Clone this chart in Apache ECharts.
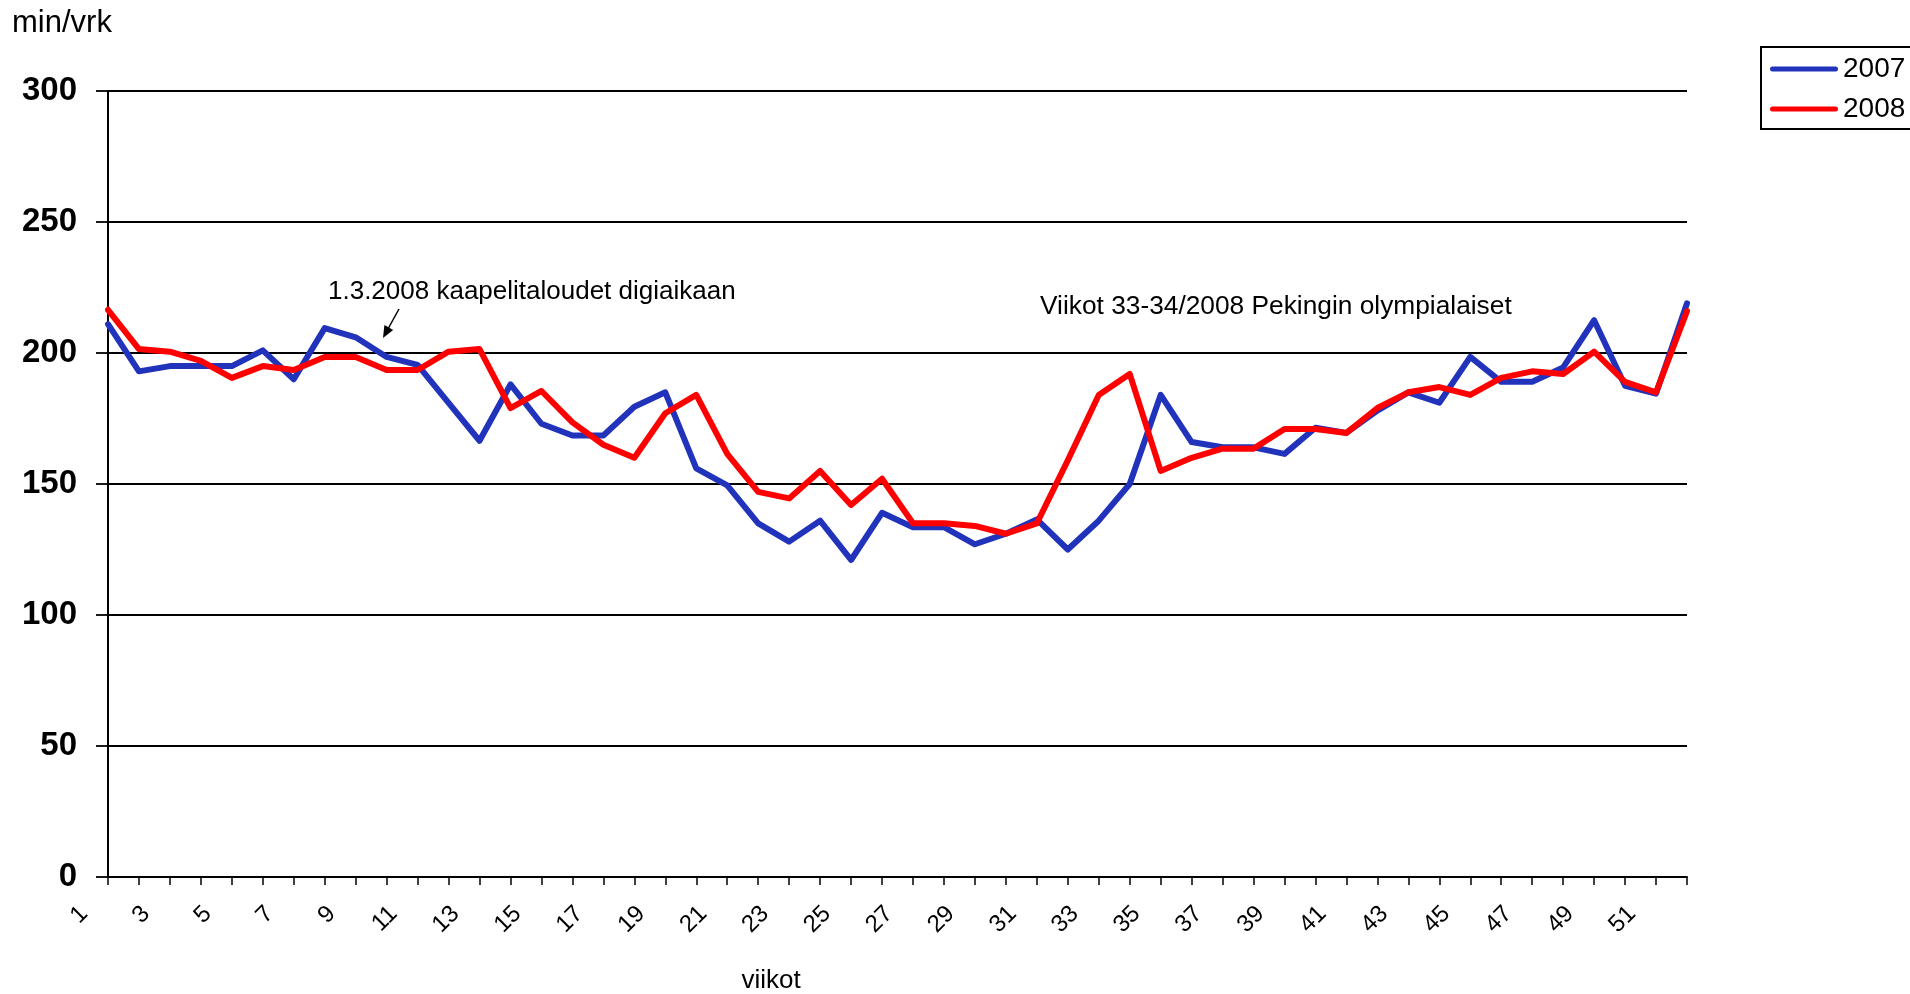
<!DOCTYPE html>
<html>
<head>
<meta charset="utf-8">
<script src="https://cdn.jsdelivr.net/npm/echarts@6/dist/echarts.min.js"></script>
<style>
html,body{margin:0;padding:0;background:#ffffff;}
#chart{width:1910px;height:994px;}
</style>
</head>
<body>
<div id="chart"></div>
<script>
const weeks = ['1','2','3','4','5','6','7','8','9','10','11','12','13','14','15','16','17','18','19','20','21','22','23','24','25','26','27','28','29','30','31','32','33','34','35','36','37','38','39','40','41','42','43','44','45','46','47','48','49','50','51','52'];
const values2007 = [211,193,195,195,195,201,190,209.5,206,198.5,195.5,181,166.5,188,173,168.5,168.5,179.5,185,156,149.5,135,128,136,121,139,133.5,133.5,127,131,136.5,125,136,150,184,166,164,164,161.5,171.5,169.5,178,185,181,198.5,189,189,194.5,212.5,187.5,184.5,219];
const values2008 = [216.5,201.5,200.5,197,190.5,195,193.5,198.5,198.5,193.5,193.5,200.5,201.5,179,185.5,173.5,165,160,177,184,161.5,147,144.5,155,142,152,135,135,134,131,135,159,184,192,155,160,163.5,163.5,171,171,169.5,179,185,187,184,190.5,193,192,200.5,189,185,216];
const seriesNames = ['2007','2008'];
const yMin = 0, yMax = 300, yStep = 50;
const yUnit = 'min/vrk';
const xTitle = 'viikot';
const note1 = '1.3.2008 kaapelitaloudet digiaikaan';
const note2 = 'Viikot 33-34/2008 Pekingin olympialaiset';

const FONT = '"Liberation Sans", Arial, sans-serif';
const chart = echarts.init(document.getElementById('chart'), null, {renderer:'canvas'});
const BAR_ICON = 'path://M2.5,0 L65.5,0 A2.5,2.5 0 0 1 65.5,5 L2.5,5 A2.5,2.5 0 0 1 2.5,0 Z';

const option = {
  backgroundColor: '#ffffff',
  animation: false,
  textStyle: {fontFamily: FONT, color: '#000'},
  grid: {left: 108, right: 223, top: 91, bottom: 117, containLabel: false},
  legend: {
    orient: 'vertical',
    left: 1761, top: 47,
    padding: [8, 24, 6, 9],
    itemGap: 12,
    itemWidth: 68,
    itemHeight: 5,
    icon: BAR_ICON,
    symbolKeepAspect: false,
    borderColor: '#000', borderWidth: 2,
    backgroundColor: '#fff',
    textStyle: {fontFamily: FONT, fontSize: 28, color: '#000', padding: [0, 0, 0, 0]},
    data: seriesNames
  },
  xAxis: {
    type: 'category',
    data: weeks,
    boundaryGap: false,
    axisLine: {lineStyle: {color: '#000', width: 2}},
    axisTick: {show: true, interval: 0, length: 8, lineStyle: {color: '#000', width: 1.5}},
    axisLabel: {interval: 1, rotate: 45, margin: 9, padding: [0, 34, 0, 0], fontSize: 24, color: '#000', fontFamily: FONT},
    splitLine: {show: false}
  },
  yAxis: {
    type: 'value',
    min: yMin, max: yMax, interval: yStep,
    axisLine: {show: true, lineStyle: {color: '#000', width: 2}},
    axisTick: {show: true, length: 12, lineStyle: {color: '#000', width: 1.8}},
    axisLabel: {margin: 31, fontSize: 33, fontWeight: 'bold', color: '#000', fontFamily: FONT},
    splitLine: {show: true, lineStyle: {color: '#000', width: 1.8}}
  },
  series: [
    {name: seriesNames[0], type: 'line', data: values2007, symbol: 'none', lineStyle: {color: '#2233bb', width: 6, cap: 'round', join: 'round'}, itemStyle: {color: '#2233bb'}, z: 2},
    {name: seriesNames[1], type: 'line', data: values2008, symbol: 'none', lineStyle: {color: '#ff0000', width: 6, cap: 'round', join: 'round'}, itemStyle: {color: '#ff0000'}, z: 3}
  ],
  graphic: [
    {type: 'text', left: 12, top: 8, style: {text: yUnit, font: '31px ' + FONT, fill: '#000'}},
    {type: 'text', x: 771, y: 981, style: {text: xTitle, font: '26px ' + FONT, fill: '#000', textAlign: 'center', textVerticalAlign: 'middle'}},
    {type: 'text', x: 328, y: 292, style: {text: note1, font: '26px ' + FONT, fill: '#000', textAlign: 'left', textVerticalAlign: 'middle'}},
    {type: 'text', x: 1040, y: 307, style: {text: note2, font: '26.3px ' + FONT, fill: '#000', textAlign: 'left', textVerticalAlign: 'middle'}},
    {type: 'line', shape: {x1: 399, y1: 309, x2: 388.5, y2: 328}, style: {stroke: '#000', lineWidth: 1.5}},
    {type: 'polygon', shape: {points: [[383, 338], [393.2, 329.9], [384.4, 325.1]]}, style: {fill: '#000'}}
  ]
};
chart.setOption(option);
</script>
</body>
</html>
